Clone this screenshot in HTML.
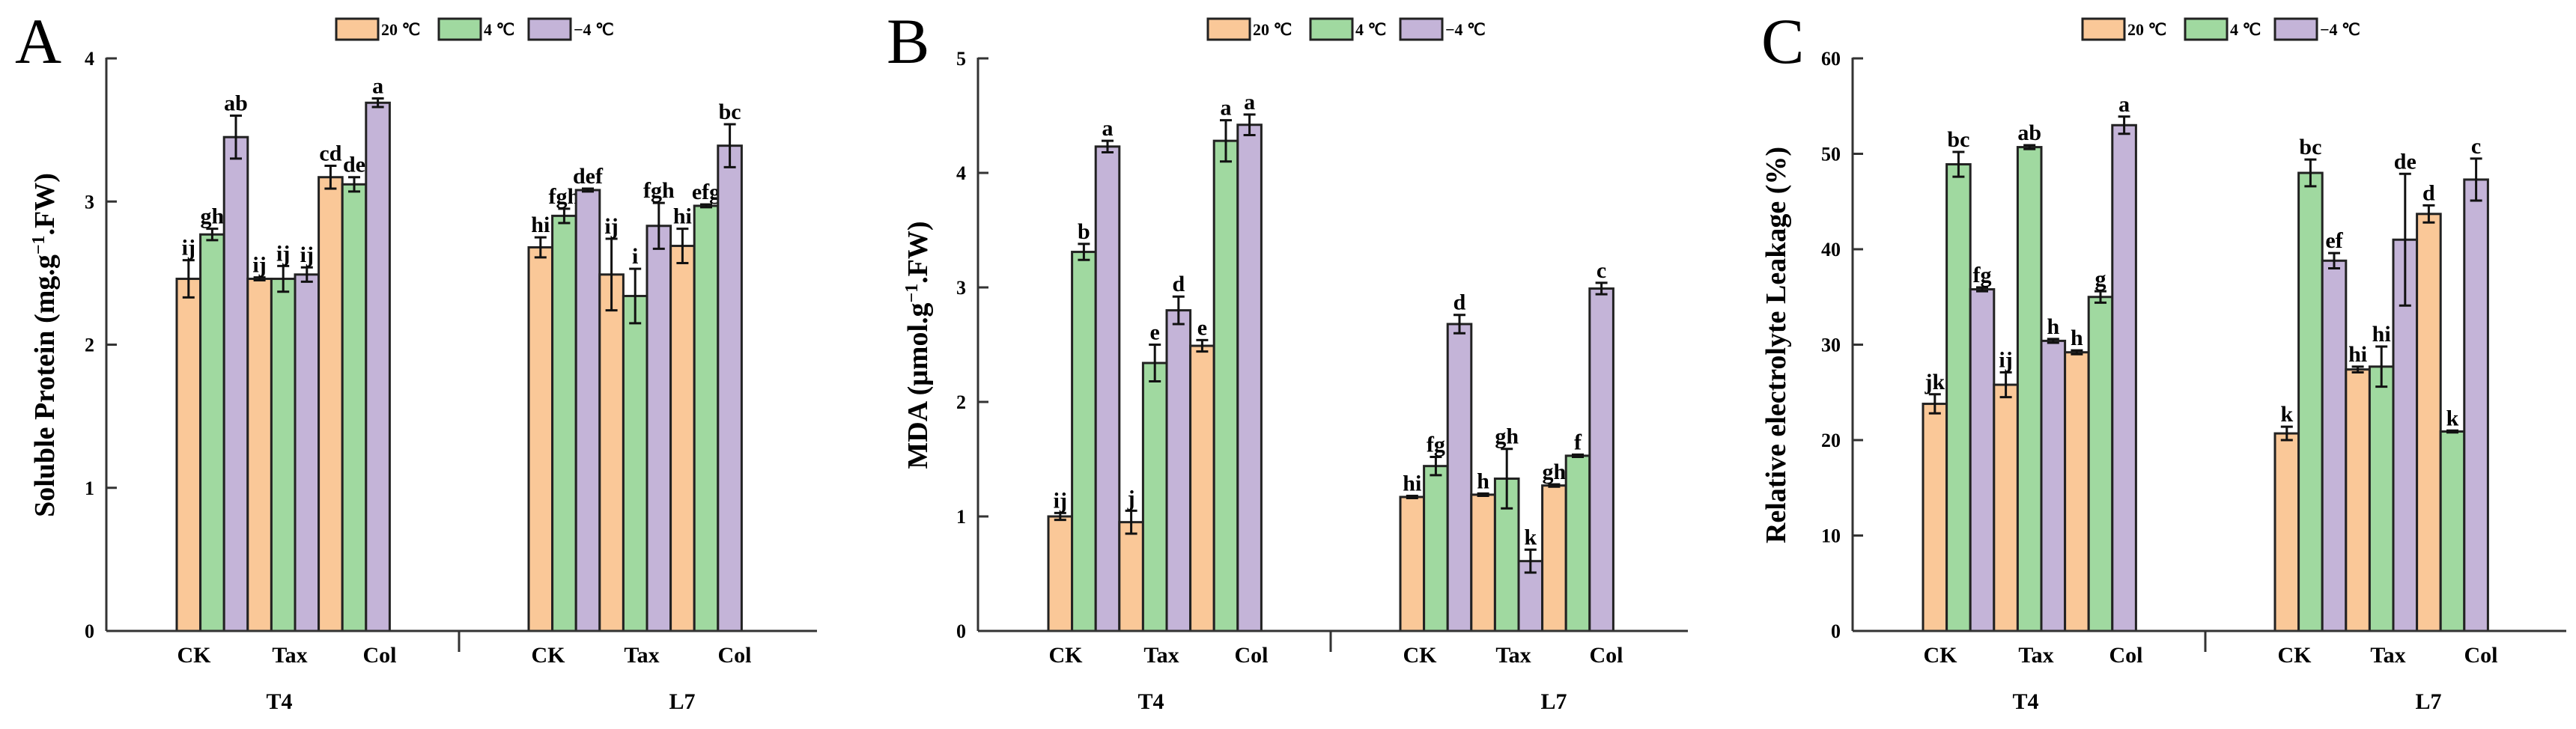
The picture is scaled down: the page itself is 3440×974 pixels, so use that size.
<!DOCTYPE html>
<html><head><meta charset="utf-8"><style>
html,body{margin:0;padding:0;background:#fff;}
svg{display:block;font-family:"Liberation Serif",serif;}
</style></head><body>
<svg id="fig" width="3440" height="974" viewBox="0 0 3440 974"></svg>
<script>
const groups = ["T4","L7"];
const treatments = ["CK","Tax","Col"];
const seriesNames = ["20 ℃","4 ℃","−4 ℃"];
// values order: T4-CK, T4-Tax, T4-Col, L7-CK, L7-Tax, L7-Col
const protein20 = [2.46,2.46,3.17,2.68,2.49,2.69];
const protein4  = [2.77,2.46,3.12,2.90,2.34,2.97];
const proteinM4 = [3.45,2.49,3.69,3.08,2.83,3.39];
const proteinErr20 = [0.13,0.01,0.08,0.07,0.25,0.12];
const proteinErr4  = [0.04,0.09,0.05,0.05,0.19,0.01];
const proteinErrM4 = [0.15,0.05,0.03,0.01,0.16,0.15];
const proteinLetters20 = ["ij","ij","cd","hi","ij","hi"];
const proteinLetters4  = ["gh","ij","de","fgh","i","efg"];
const proteinLettersM4 = ["ab","ij","a","def","fgh","bc"];
const proteinTicks = [0,1,2,3,4];
const mda20 = [1.00,0.95,2.49,1.17,1.19,1.27];
const mda4  = [3.31,2.34,4.28,1.44,1.33,1.53];
const mdaM4 = [4.23,2.80,4.42,2.68,0.61,2.99];
const mdaErr20 = [0.03,0.10,0.05,0.01,0.01,0.01];
const mdaErr4  = [0.07,0.16,0.18,0.08,0.26,0.01];
const mdaErrM4 = [0.05,0.12,0.09,0.08,0.10,0.05];
const mdaLetters20 = ["ij","j","e","hi","h","gh"];
const mdaLetters4  = ["b","e","a","fg","gh","f"];
const mdaLettersM4 = ["a","d","a","d","k","c"];
const mdaTicks = [0,1,2,3,4,5];
const rel20 = [23.8,25.8,29.2,20.7,27.4,43.7];
const rel4  = [48.9,50.7,35.0,48.0,27.7,20.9];
const relM4 = [35.8,30.4,53.0,38.8,41.0,47.3];
const relErr20 = [1.0,1.3,0.2,0.7,0.3,0.9];
const relErr4  = [1.3,0.2,0.6,1.4,2.1,0.1];
const relErrM4 = [0.2,0.2,0.9,0.8,6.9,2.2];
const relLetters20 = ["jk","ij","h","k","hi","d"];
const relLetters4  = ["bc","ab","g","bc","hi","k"];
const relLettersM4 = ["fg","h","a","ef","de","c"];
const relTicks = [0,10,20,30,40,50,60];

const colors = ["#fac898","#a0d9a0","#c4b4d8"];
const NS = "http://www.w3.org/2000/svg";
const svg = document.getElementById("fig");
function mk(tag, attrs, parent, text){
  const e = document.createElementNS(NS, tag);
  for (const k in attrs) e.setAttribute(k, attrs[k]);
  if (text !== undefined) e.textContent = text;
  (parent||svg).appendChild(e);
  return e;
}
function panel(cfg){
  const g = mk("g", {});
  
  
  const ax = cfg.ax, y0 = 843, yTop = 78, ymax = cfg.ymax;
  const yScale = v => y0 - (v / ymax) * (y0 - yTop);
  const bw = 31.6;
  const groupStart = [ax + 94, ax + 564];
  const xBar = (gi, ti, si) => groupStart[gi] + (ti * 3 + si) * bw;
  const pl = mk("text", {x: ax - 122, y: 84, "font-size": 86}, g, cfg.letter);
  
  
  const lg = mk("g", {}, g);
  
  
  const lx = [ax + 307, ax + 444, ax + 564];
  seriesNames.forEach((s, i) => {
    const r = mk("rect", {x: lx[i], y: 25, width: 56, height: 28, fill: colors[i], stroke: "#222", "stroke-width": 3}, lg);
    
    
    const t = mk("text", {x: lx[i] + 60, y: 47, "font-size": 22, "font-weight": "bold"}, lg, s);
    
    
  });
  const yl = mk("line", {x1: ax, y1: yTop - 1, x2: ax, y2: y0, stroke: "#333", "stroke-width": 3}, g);
  
  
  cfg.ticks.forEach(t => {
    const y = yScale(t);
    const tl = mk("line", {x1: ax, y1: y, x2: ax + 14, y2: y, stroke: "#333", "stroke-width": 3}, g);
    
    
    const tt = mk("text", {x: ax - 16, y: y + 9, "font-size": 26, "font-weight": "bold", "text-anchor": "end"}, g, String(t));
    
    
  });
  const yt = mk("text", {x: 0, y: 0, "font-size": 38, "font-weight": "bold", "text-anchor": "middle",
    transform: `translate(${ax + cfg.titleDx},461) rotate(-90)`}, g);
  
  
  yt.innerHTML = cfg.title;
  const vals = [cfg.v20, cfg.v4, cfg.vM4];
  const errs = [cfg.e20, cfg.e4, cfg.eM4];
  const lets = [cfg.l20, cfg.l4, cfg.lM4];
  for (let gi = 0; gi < 2; gi++) for (let ti = 0; ti < 3; ti++) for (let si = 0; si < 3; si++) {
    const idx = gi * 3 + ti;
    const v = vals[si][idx], e = errs[si][idx];
    const x = xBar(gi, ti, si), y = yScale(v);
    const b = mk("rect", {x: x, y: y, width: bw, height: y0 - y, fill: colors[si], stroke: "#222", "stroke-width": 3}, g);
    
    
    const cx = x + bw / 2, yh = yScale(v + e), ylo = yScale(v - e);
    const eb = mk("path", {d: `M${cx},${yh}V${ylo}M${cx - 8},${yh}H${cx + 8}M${cx - 8},${ylo}H${cx + 8}`, stroke: "#111", "stroke-width": 3, fill: "none"}, g);
    
    
    const lt = mk("text", {x: cx, y: yh - 7, "font-size": 30, "font-weight": "bold", "text-anchor": "middle"}, g, lets[si][idx]);
    
    
  }
  const xl = mk("line", {x1: ax, y1: y0, x2: ax + cfg.axLen, y2: y0, stroke: "#333", "stroke-width": 3}, g);
  
  
  const sp = mk("line", {x1: ax + 471, y1: y0, x2: ax + 471, y2: y0 + 28, stroke: "#333", "stroke-width": 3}, g);
  
  
  const catOff = [[23, 151, 271], [26, 151, 275]];
  for (let gi = 0; gi < 2; gi++) {
    treatments.forEach((t, ti) => {
      const tx = mk("text", {x: groupStart[gi] + catOff[gi][ti], y: 885, "font-size": 30, "font-weight": "bold", "text-anchor": "middle"}, g, t);
      
      
    });
    const gl = mk("text", {x: groupStart[gi] + (gi === 0 ? 137 : 205), y: 947, "font-size": 30, "font-weight": "bold", "text-anchor": "middle"}, g, groups[gi]);
    
    
  }
}
panel({name: "panel-a-soluble-protein", letter: "A", ax: 142, axLen: 949, ymax: 4, ticks: proteinTicks, titleDx: -70,
  title: 'Soluble Protein (mg.g<tspan dy="-13" font-size="24">−1</tspan><tspan dy="13">.FW)</tspan>',
  v20: protein20, v4: protein4, vM4: proteinM4, e20: proteinErr20, e4: proteinErr4, eM4: proteinErrM4,
  l20: proteinLetters20, l4: proteinLetters4, lM4: proteinLettersM4});
panel({name: "panel-b-mda", letter: "B", ax: 1306, axLen: 948, ymax: 5, ticks: mdaTicks, titleDx: -68,
  title: 'MDA (μmol.g<tspan dy="-13" font-size="24">−1</tspan><tspan dy="13">.FW)</tspan>',
  v20: mda20, v4: mda4, vM4: mdaM4, e20: mdaErr20, e4: mdaErr4, eM4: mdaErrM4,
  l20: mdaLetters20, l4: mdaLetters4, lM4: mdaLettersM4});
panel({name: "panel-c-electrolyte-leakage", letter: "C", ax: 2474, axLen: 953, ymax: 60, ticks: relTicks, titleDx: -90,
  title: 'Relative electrolyte Leakage (%)',
  v20: rel20, v4: rel4, vM4: relM4, e20: relErr20, e4: relErr4, eM4: relErrM4,
  l20: relLetters20, l4: relLetters4, lM4: relLettersM4});
</script>
</body></html>
